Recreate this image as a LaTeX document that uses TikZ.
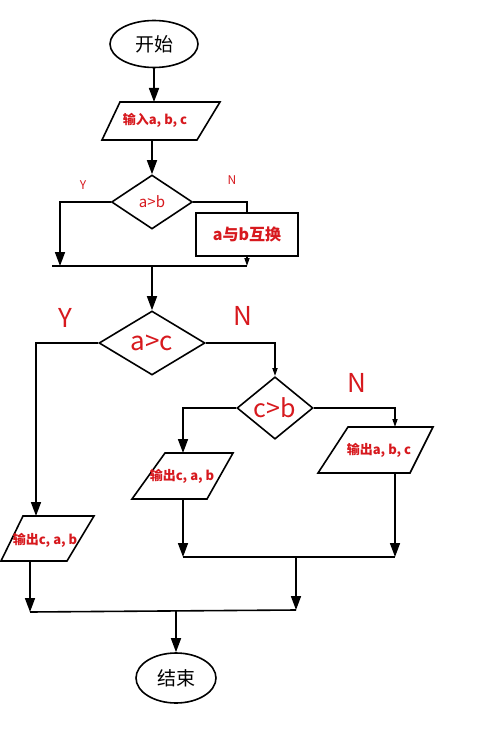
\documentclass[tikz,border=0pt]{standalone}
\usepackage{fontspec}
\setmainfont{Noto Sans CJK SC}
\usetikzlibrary{shapes.geometric,arrows.meta}
\definecolor{txtred}{RGB}{215,25,30}
\begin{document}
\begin{tikzpicture}[x=1pt,y=-1pt,line width=1.6pt,
  arr/.style={-{Triangle[length=14pt,width=10pt]}},
  arrs/.style={-{Triangle[length=8pt,width=5pt]}},
  dia/.style={diamond,draw,inner sep=0pt,text=txtred},
  term/.style={ellipse,draw,inner sep=0pt,font=\fontsize{19}{19}\selectfont},
  rtxt/.style={text=txtred,font=\bfseries\fontsize{13}{13}\selectfont,inner sep=0pt},
  lbl/.style={text=txtred,inner sep=0pt},
  procbox/.style={rectangle,draw,inner sep=0pt,text=txtred,font=\bfseries\fontsize{16}{16}\selectfont}]
\useasboundingbox (0,0) rectangle (490,749);
\fill[white] (0,0) rectangle (490,749);

% start
\node[term,minimum width=88pt,minimum height=47pt] (start) at (154,44) {开始};

% input
\draw (120,102) -- (220,102) -- (197,140) -- (102,140) -- cycle;
\node[rtxt] (inp) at (155,120) {输入a, b, c};
\coordinate (inT) at (154,102);
\coordinate (inB) at (152,140);
\draw[arr] (start.south) -- (inT);

% a>b
\node[dia,minimum width=81pt,minimum height=54pt,font=\fontsize{15}{15}\selectfont] (d1) at (152,202) {a>b};
\draw[arr] (inB) -- (d1.north);
\node[lbl,font=\fontsize{12}{12}\selectfont] (y1) at (83,185) {Y};
\node[lbl,font=\fontsize{12}{12}\selectfont] (n1) at (232,180) {N};

\coordinate (m1a) at (52,266);
\coordinate (m1b) at (247,266);
\coordinate (m1c) at (152,266);
\coordinate (m1L) at (60,266);
\coordinate (c1L) at (60,202);
\coordinate (c1R) at (247,202);
\node[procbox,minimum width=102pt,minimum height=43pt] (swap) at (247,234.5) {a与b互换};
\draw[arr] (d1.west) -- (c1L) -- (m1L);
\draw (d1.east) -- (c1R) -- (swap.north);
\draw[arrs] (swap.south) -- (m1b);
\draw (m1a) -- (m1b);

% a>c
\node[dia,minimum width=106pt,minimum height=64pt,font=\fontsize{26}{26}\selectfont] (d2) at (152,343) {a>c};
\draw[arr] (m1c) -- (d2.north);
\node[lbl,font=\fontsize{26}{26}\selectfont] (y2) at (65,318) {Y};
\node[lbl,font=\fontsize{26}{26}\selectfont] (n2) at (243,316) {N};

% left output
\draw (23,516) -- (94,516) -- (67,561) -- (1,561) -- cycle;
\node[rtxt] (out1) at (45,540) {输出c, a, b};
\coordinate (o1T) at (36,516);
\coordinate (o1B) at (30,561);
\coordinate (c2L) at (36,343);
\draw[arr] (d2.west) -- (c2L) -- (o1T);

% c>b
\node[dia,minimum width=76pt,minimum height=48pt,font=\fontsize{25}{25}\selectfont] (d3) at (275,408) {c>b};
\coordinate (c2R) at (275,343);
\draw[arrs] (d2.east) -- (c2R) -- (d3.north);
\node[lbl,font=\fontsize{26}{26}\selectfont] (n3) at (357,383) {N};

% middle output
\draw (165,453) -- (233,453) -- (207,499) -- (132,499) -- cycle;
\node[rtxt] (out2) at (182,476) {输出c, a, b};
\coordinate (o2T) at (183,453);
\coordinate (o2B) at (183,499);
\coordinate (c3L) at (183,408);
\draw[arr] (d3.west) -- (c3L) -- (o2T);

% right output
\draw (348,427) -- (433,427) -- (410,473) -- (318,473) -- cycle;
\node[rtxt] (out3) at (379,450) {输出a, b, c};
\coordinate (o3T) at (395,427);
\coordinate (o3B) at (395,473);
\coordinate (c3R) at (395,408);
\draw[arrs] (d3.east) -- (c3R) -- (o3T);

% merge 2
\coordinate (m2a) at (183,557);
\coordinate (m2b) at (395,557);
\coordinate (m2c) at (296,557);
\draw[arr] (o2B) -- (m2a);
\draw[arr] (o3B) -- (m2b);
\draw (m2a) -- (m2b);

% merge 3
\coordinate (m3a) at (30,612);
\coordinate (m3b) at (296,610);
\coordinate (m3c) at (176,611);
\draw[arr] (m2c) -- (m3b);
\draw[arr] (o1B) -- (m3a);
\draw (m3a) -- (m3b);

% end
\node[term,minimum width=80pt,minimum height=50pt] (end) at (176,678) {结束};
\draw[arr] (m3c) -- (end.north);
\end{tikzpicture}
\end{document}
